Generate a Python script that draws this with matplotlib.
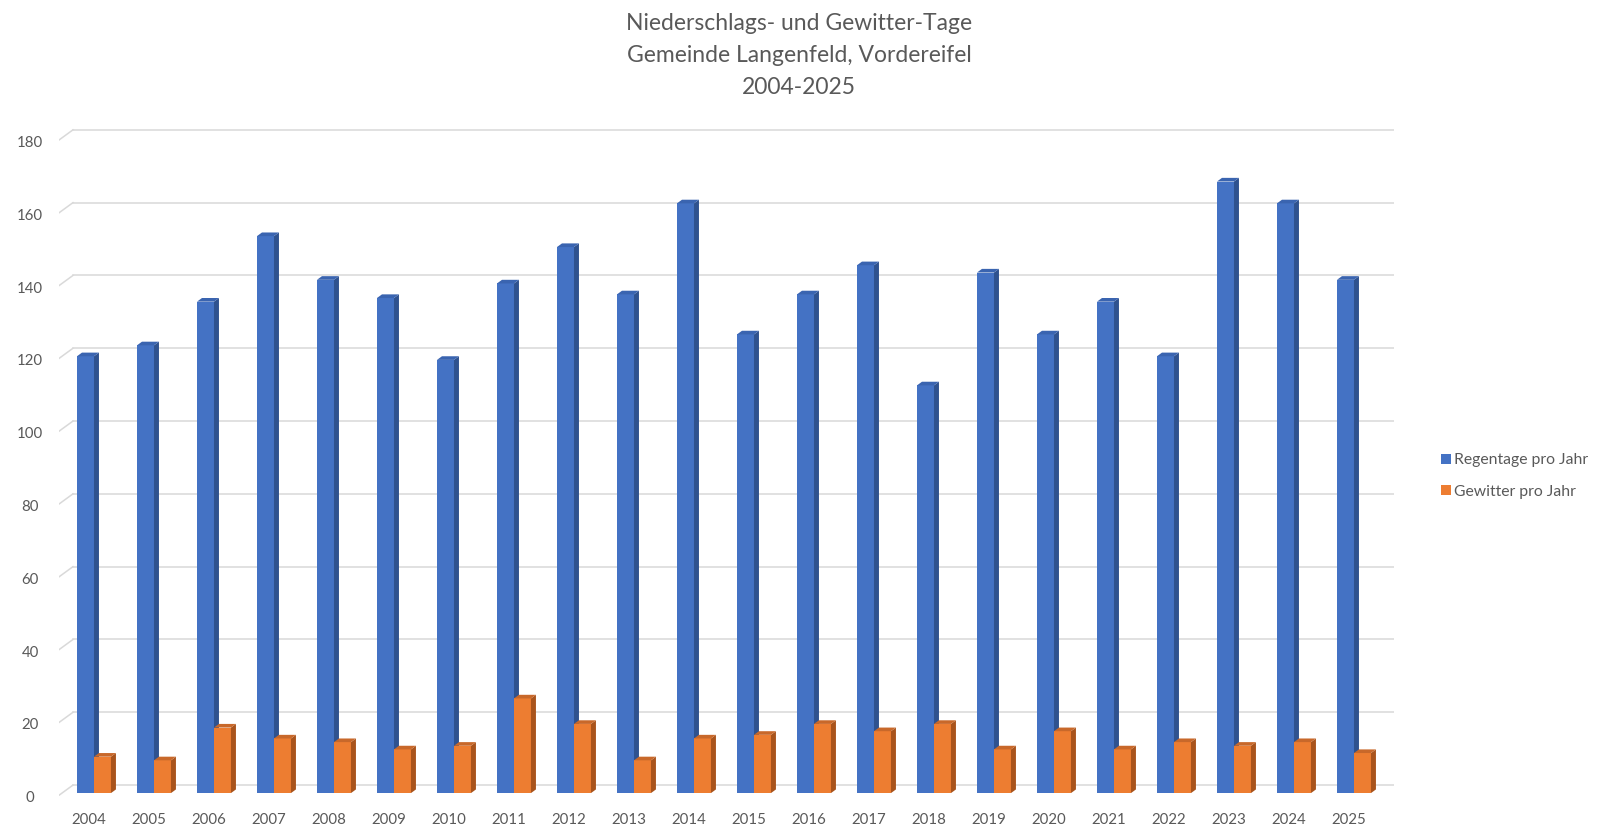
import matplotlib
matplotlib.use("Agg")
import matplotlib.pyplot as plt
from matplotlib.patches import Polygon
from matplotlib.lines import Line2D

plt.rcParams['font.family'] = ['Lato', 'DejaVu Sans']

# data
years = [str(y) for y in range(2004, 2026)]
regentage = [120, 123, 135, 153, 141, 136, 119, 140, 150, 137, 162,
             126, 137, 145, 112, 143, 126, 135, 120, 168, 162, 141]
gewitter = [10, 9, 18, 15, 14, 12, 13, 26, 19, 9, 15,
            16, 19, 17, 19, 12, 17, 12, 14, 13, 14, 11]
yticks = list(range(0, 181, 20))

title = "Niederschlags- und Gewitter-Tage\nGemeinde Langenfeld, Vordereifel\n2004-2025"
series_names = ["Regentage pro Jahr", "Gewitter pro Jahr"]

blue = ('#4472C4', '#2F528F', '#3A64B0')      # front, side, top
orange = ('#ED7D31', '#A9541C', '#C8682A')
text_col = '#595959'
grid_col = '#D9D9D9'

W, H = 1600, 835
fig = plt.figure(figsize=(W / 100, H / 100), dpi=100)
ax = fig.add_axes([59 / W, 1 - 796 / H, (1394 - 59) / W, (796 - 128) / H])
ax.set_xlim(-0.5, 21.75)
ax.set_ylim(-0.8, 182.7)
ax.axis('off')

# fake 3d: depth offsets in data units
back_dx, back_dy = 0.233, 2.2     # back wall of the floor
dx, dy = 0.083, 1.0               # bar side/top depth
bw = 0.283                        # front width of each bar

# gridlines on the back wall plus the slanted left edge
for v in yticks:
    ax.plot([-0.5 + back_dx, 21.75], [v + back_dy, v + back_dy],
            color=grid_col, lw=1.1, zorder=0)
    ax.plot([-0.5, -0.5 + back_dx], [v - 0.6, v + back_dy],
            color=grid_col, lw=1.1, zorder=0)
    ax.text(-0.98, v - 1.4, str(v), ha='center', va='center',
            fontsize=10.8, color=text_col)


def bars3d(offset, values, cols, z):
    xs = [i + offset for i in range(len(values))]
    ax.bar(xs, values, width=bw, align='edge', color=cols[0],
           linewidth=0, zorder=z)
    for x0, v in zip(xs, values):
        x1 = x0 + bw
        side = Polygon([(x1, 0), (x1 + dx, dy), (x1 + dx, v + dy), (x1, v)],
                       closed=True, facecolor=cols[1], lw=0, zorder=z)
        top = Polygon([(x0, v), (x0 + dx, v + dy), (x1 + dx, v + dy), (x1, v)],
                      closed=True, facecolor=cols[2], lw=0, zorder=z)
        ax.add_patch(side)
        ax.add_patch(top)


bars3d(-0.2, regentage, blue, 2)
bars3d(0.083, gewitter, orange, 3)

for i, yr in enumerate(years):
    ax.text(i, -7.3, yr, ha='center', va='center', fontsize=10.8,
            color=text_col, clip_on=False)

fig.text(799 / W, 1 - 55.5 / H, title, ha='center', va='center',
         fontsize=16.5, color=text_col, linespacing=1.64)

handles = [Line2D([], [], marker='s', ls='none', markersize=7,
                  markerfacecolor=blue[0], markeredgewidth=0),
           Line2D([], [], marker='s', ls='none', markersize=7,
                  markerfacecolor=orange[0], markeredgewidth=0)]
fig.legend(handles, series_names, loc='center left',
           bbox_to_anchor=(1427 / W, 1 - 476 / H), frameon=False,
           fontsize=11.3, labelcolor=text_col, handlelength=0.6,
           handletextpad=0.2, labelspacing=1.1)

fig.savefig('out.png', dpi=100)
